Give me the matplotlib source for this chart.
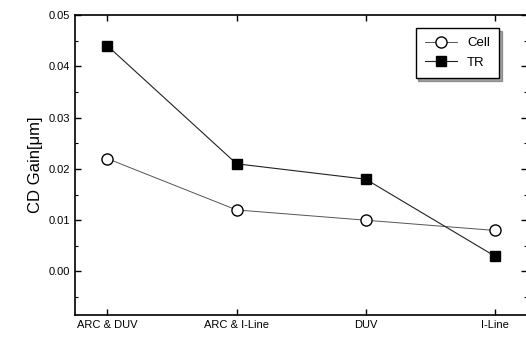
import matplotlib
matplotlib.use("Agg")
import matplotlib.pyplot as plt
from matplotlib.ticker import FormatStrFormatter, MultipleLocator

categories = ["ARC & DUV", "ARC & I-Line", "DUV", "I-Line"]
cell = [0.022, 0.012, 0.010, 0.008]
tr = [0.044, 0.021, 0.018, 0.003]
yticks = [0.00, 0.01, 0.02, 0.03, 0.04, 0.05]

plt.rcParams['font.family'] = ['Liberation Sans', 'DejaVu Sans']
fig = plt.figure(figsize=(5.26, 3.52), dpi=100)
ax = fig.add_axes([0.143, 0.105, 0.859, 0.852])
x = list(range(len(categories)))
ax.plot(x, cell, color='#555555', lw=0.7, marker='o', ms=8, mfc='white', mec='black', mew=1.0, label='Cell')
ax.plot(x, tr, color='#222222', lw=0.8, marker='s', ms=7, mfc='black', mec='black', label='TR')
ax.set_xlim(-0.25, 3.25)
ax.set_ylim(-0.0085, 0.05)
ax.set_xticks(x)
ax.set_xticklabels(categories, fontsize=8)
ax.set_yticks(yticks)
ax.yaxis.set_minor_locator(MultipleLocator(0.005))
ax.yaxis.set_major_formatter(FormatStrFormatter('%.2f'))
ax.tick_params(direction='in', labelsize=8, width=1, length=4, top=True, right=True)
ax.tick_params(which='minor', direction='in', length=2, width=0.8, right=True)
ax.set_ylabel('CD Gain[μm]', fontsize=12)
for s in ax.spines.values():
    s.set_linewidth(1.2)
leg = ax.legend(loc='upper right', bbox_to_anchor=(0.953, 0.98), fontsize=9.5, frameon=True,
                fancybox=False, shadow=True, edgecolor='black', handlelength=2.4, borderpad=0.7,
                labelspacing=0.55)
leg.get_frame().set_linewidth(1.0)
fig.savefig('out.png', dpi=100)
